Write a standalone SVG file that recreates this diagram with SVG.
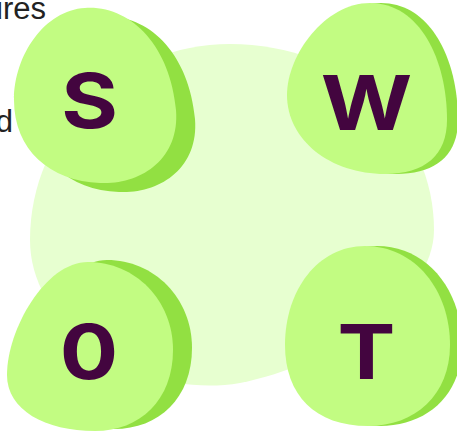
<svg xmlns="http://www.w3.org/2000/svg" width="457" height="433" viewBox="0 0 457 433">
  <style>
    .bg { fill: #E7FFD0; }
    .front { fill: #C2FC82; }
    .shadow { fill: #92E042; }
    .letter { font-family: Inter, "Open Sans", "DejaVu Sans", sans-serif; font-weight: 700; font-size: 76px; fill: #43053F; text-anchor: middle; }
    .body { font-family: "Liberation Sans", Arial, sans-serif; font-size: 31px; fill: #222222; text-anchor: end; }
  </style>
  <rect width="457" height="433" fill="#FFFFFF"/>
  <g id="text">
    <text class="body" x="46" y="19">ures</text>
    <text class="body" x="13" y="132">d</text>
  </g>
  <g id="background">
    <path class="bg" d="M 230,44 C 350,44 434,130 434,230 C 434,300 330,365 240,383 C 140,400 30,330 30,240 C 30,130 120,44 230,44 Z"/>
  </g>
  <g id="node-s">
    <path class="shadow" transform="translate(19,9)" d="M 85,8 C 130,5 170,45 176,110 C 180,160 140,185 100,183 C 50,181 14,150 14,100 C 14,55 45,10 85,8 Z"/>
    <path class="front" d="M 85,8 C 130,5 170,45 176,110 C 180,160 140,185 100,183 C 50,181 14,150 14,100 C 14,55 45,10 85,8 Z"/>
    <text class="letter" transform="translate(89.5,128) scale(1.14,1)">S</text>
  </g>
  <g id="node-w">
    <path class="shadow" transform="translate(11,0)" d="M 370,3 C 420,3 447,60 447,120 C 447,155 425,174 385,174 C 330,174 287,140 287,95 C 287,55 325,3 370,3 Z"/>
    <path class="front" d="M 370,3 C 420,3 447,60 447,120 C 447,155 425,174 385,174 C 330,174 287,140 287,95 C 287,55 325,3 370,3 Z"/>
    <text class="letter" transform="translate(366.5,130) scale(1.16,1)">W</text>
  </g>
  <g id="node-o">
    <path class="shadow" transform="translate(19,-2)" d="M 88,262 C 135,262 173,300 173,350 C 173,400 140,431 95,431 C 45,431 7,410 7,375 C 7,330 45,262 88,262 Z"/>
    <path class="front" d="M 88,262 C 135,262 173,300 173,350 C 173,400 140,431 95,431 C 45,431 7,410 7,375 C 7,330 45,262 88,262 Z"/>
    <text class="letter" transform="translate(89,379) scale(1.14,1)">0</text>
  </g>
  <g id="node-t">
    <path class="shadow" transform="translate(12,0)" d="M 365,246 C 415,246 450,290 450,345 C 450,395 415,426 368,426 C 315,426 285,395 285,345 C 285,290 318,246 365,246 Z"/>
    <path class="front" d="M 365,246 C 415,246 450,290 450,345 C 450,395 415,426 368,426 C 315,426 285,395 285,345 C 285,290 318,246 365,246 Z"/>
    <text class="letter" transform="translate(366.5,379) scale(1.14,1)">T</text>
  </g>
</svg>
